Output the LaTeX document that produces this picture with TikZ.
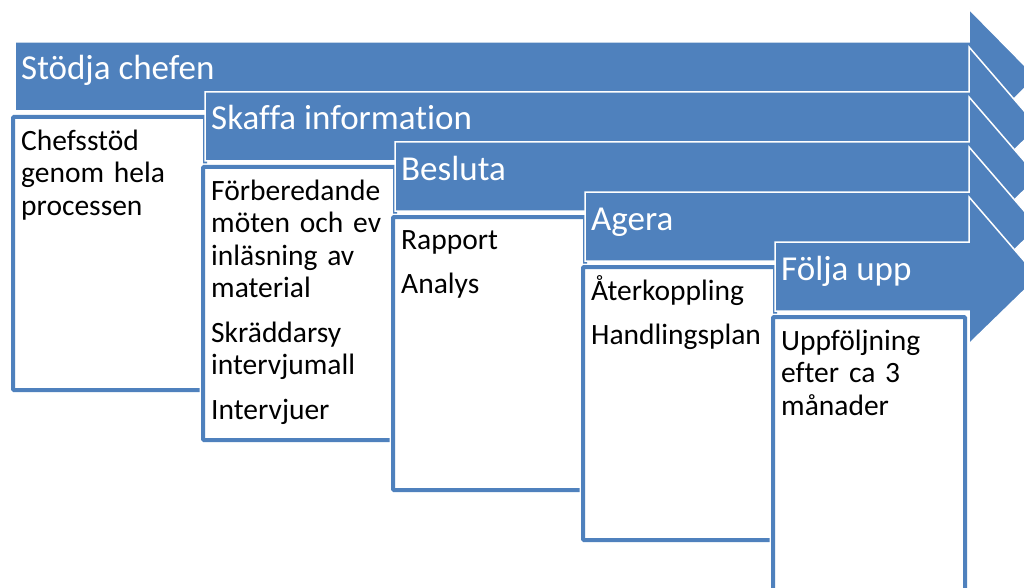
\documentclass[tikz,border=0pt]{standalone}
\usepackage{fontspec}
\setmainfont{Carlito}[Ligatures=NoCommon]
\definecolor{accent}{HTML}{4F81BD}
\tikzset{
  arrowshape/.style={fill=accent, draw=white, line width=1.5pt, line join=miter},
  boxouter/.style={draw=white, line width=7pt, rounded corners=1pt},
  boxinner/.style={draw=accent, fill=white, line width=4pt, rounded corners=1pt},
  titletext/.style={anchor=base west, inner sep=0pt, text=white, font=\fontsize{35}{40}\selectfont},
  boxtext/.style={anchor=base west, inner sep=0pt, text width=185pt, align=left, font=\fontsize{29.5}{32.5}\selectfont}
}
\begin{document}
\begin{tikzpicture}[x=1pt, y=-1pt]
\useasboundingbox (0,0) rectangle (1024,588);
\clip (0,0) rectangle (1024,588);
% ---------- 1
\draw[arrowshape] (15,42) -- (969,42) -- (969,9) -- (1036,77) -- (969,144) -- (969,111) -- (15,111) -- cycle;
\node[titletext] (t1) at (21,80) {Stödja chefen};
\draw[boxouter] (13,117) rectangle (205,390);
\draw[boxinner] (13,117) rectangle (205,390);
\node[boxtext] (b1) at (21,150) {Chefsstöd\\genom hela\\processen};
% ---------- 2
\draw[arrowshape] (205,92) -- (969,92) -- (969,47) -- (1038,127) -- (969,194) -- (969,161) -- (205,161) -- cycle;
\node[titletext] (t2) at (211,130) {Skaffa information};
\draw[boxouter] (203,167) rectangle (395,440);
\draw[boxinner] (203,167) rectangle (395,440);
\node[boxtext] (b2) at (211,200) {Förberedande\\möten och ev\\inläsning av\\material\\[12pt]Skräddarsy\\intervjumall\\[12pt]Intervjuer};
% ---------- 3
\draw[arrowshape] (395,142) -- (969,142) -- (969,97) -- (1038,177) -- (969,244) -- (969,211) -- (395,211) -- cycle;
\node[titletext] (t3) at (401,180) {Besluta};
\draw[boxouter] (393,217) rectangle (585,490);
\draw[boxinner] (393,217) rectangle (585,490);
\node[boxtext] (b3) at (401,249) {Rapport\\[12pt]Analys};
% ---------- 4
\draw[arrowshape] (585,192) -- (969,192) -- (969,147) -- (1038,227) -- (969,294) -- (969,261) -- (585,261) -- cycle;
\node[titletext] (t4) at (591,230) {Agera};
\draw[boxouter] (583,267) rectangle (775,540);
\draw[boxinner] (583,267) rectangle (775,540);
\node[boxtext] (b4) at (591,300) {Återkoppling\\[12pt]Handlingsplan};
% ---------- 5
\draw[arrowshape] (775,242) -- (969,242) -- (969,197) -- (1038,277) -- (969,344) -- (969,311) -- (775,311) -- cycle;
\node[titletext] (t5) at (781,280) {Följa upp};
\draw[boxouter] (773,317) rectangle (965,590);
\draw[boxinner] (773,317) rectangle (965,590);
\node[boxtext] (b5) at (781,350) {Uppföljning\\efter ca 3\\månader};
\end{tikzpicture}
\end{document}
